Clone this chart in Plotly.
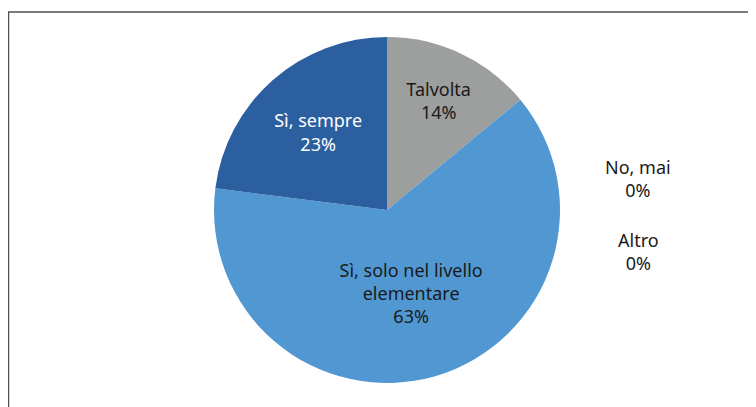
import plotly.graph_objects as go

labels = ["Talvolta", "Sì, solo nel livello<br>elementare", "Sì, sempre", "No, mai", "Altro"]
values = [14, 63, 23, 0, 0]
colors = ["#9D9E9E", "#5198D2", "#2C5F9F", "#F0F0F0", "#E0E0E0"]
text_colors = ["#1A1A1A", "#1A1A1A", "#FFFFFF", "#1A1A1A", "#1A1A1A"]

W, H = 756, 407
OFF = 8  # page body margin offset
cx, cy, r = 387 - OFF, 210 - OFF, 173
FONT = "Noto Sans"
FS = 18

fig = go.Figure()
fig.add_trace(go.Pie(
    labels=labels,
    values=values,
    sort=False,
    direction="clockwise",
    rotation=0,
    marker=dict(colors=colors, line=dict(width=0)),
    texttemplate="%{label}<br>%{percent:.0%}",
    textposition=["inside" if v > 0 else "none" for v in values],
    insidetextorientation="horizontal",
    textfont=dict(family=FONT, size=FS, color=text_colors),
    showlegend=False,
    hoverinfo="label+percent",
    domain=dict(x=[(cx - r) / W, (cx + r) / W], y=[(H - cy - r) / H, (H - cy + r) / H]),
))

# zero-value categories shown beside the pie
zero_pos = {"No, mai": 178 - OFF, "Altro": 252 - OFF}
total = sum(values)
for lab, val in zip(labels, values):
    if val == 0:
        fig.add_annotation(
            x=(638 - OFF) / W, y=1 - zero_pos[lab] / H, xref="paper", yref="paper",
            xanchor="center", yanchor="middle",
            text=f"{lab}<br>{round(100 * val / total)}%",
            showarrow=False, align="center",
            font=dict(family=FONT, size=FS, color="#1A1A1A"),
        )

fig.add_shape(type="rect", xref="paper", yref="paper",
              x0=0.5 / W, x1=1.02, y0=-0.05, y1=1 - 4 / H,
              line=dict(color="#505050", width=1.5), layer="below")

fig.update_layout(
    width=W, height=H,
    margin=dict(l=0, r=0, t=0, b=0),
    paper_bgcolor="white", plot_bgcolor="white",
    uniformtext=dict(minsize=10, mode="show"),
)

fig.write_html("out.html")
